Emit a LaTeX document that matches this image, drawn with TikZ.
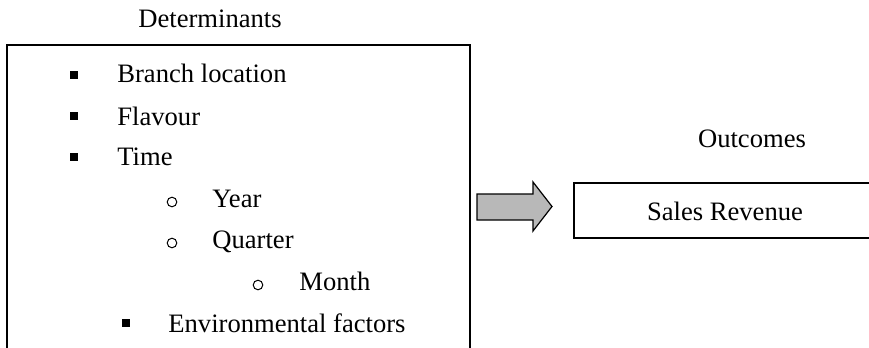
\documentclass[tikz,border=0pt]{standalone}
\usepackage{fontspec}
\setmainfont{Liberation Serif}
\begin{document}
\begin{tikzpicture}[x=0.5pt,y=-0.5pt,
  lbl/.style={inner sep=0pt,anchor=base west,font=\fontsize{13.3}{15}\selectfont},
  ctr/.style={inner sep=0pt,anchor=base,font=\fontsize{13.3}{15}\selectfont},
  sq/.style={fill=black,inner sep=0pt,minimum size=3.6pt,draw=none},
  circ/.style={circle,draw=black,line width=0.5pt,inner sep=0pt,minimum size=4.8pt},
  frame/.style={line width=0.9pt,draw=black}]
\useasboundingbox (0,0) rectangle (869,348);
\clip (0,0) rectangle (869,348);
% titles
\node[ctr] (det) at (210,27) {Determinants};
\node[ctr] (out) at (752,147) {Outcomes};
% left box (open at bottom)
\draw[frame] (7,360) -- (7,45) -- (470,45) -- (470,360);
% items
\node[sq] (b1) at (74,75) {};
\node[lbl] (t1) at (117,83) {Branch location};
\node[sq] (b2) at (74,116) {};
\node[lbl] (t2) at (117,125) {Flavour};
\node[sq] (b3) at (74,157) {};
\node[lbl] (t3) at (117,165) {Time};
\node[circ] (c1) at (172,202) {};
\node[lbl] (t4) at (212,207) {Year};
\node[circ] (c2) at (172,243) {};
\node[lbl] (t5) at (212,248) {Quarter};
\node[circ] (c3) at (258,285) {};
\node[lbl] (t6) at (299,290) {Month};
\node[sq] (b4) at (126,323) {};
\node[lbl] (t7) at (168,332) {Environmental factors};
% arrow
\draw[line width=0.6pt,fill=black!28] (477,194) -- (533,194) -- (533,182) -- (552,206.5) -- (533,231) -- (533,220) -- (477,220) -- cycle;
% outcome box
\draw[frame] (900,183) -- (574,183) -- (574,238) -- (900,238);
\node[ctr] (sr) at (725,220) {Sales Revenue};
\end{tikzpicture}
\end{document}
